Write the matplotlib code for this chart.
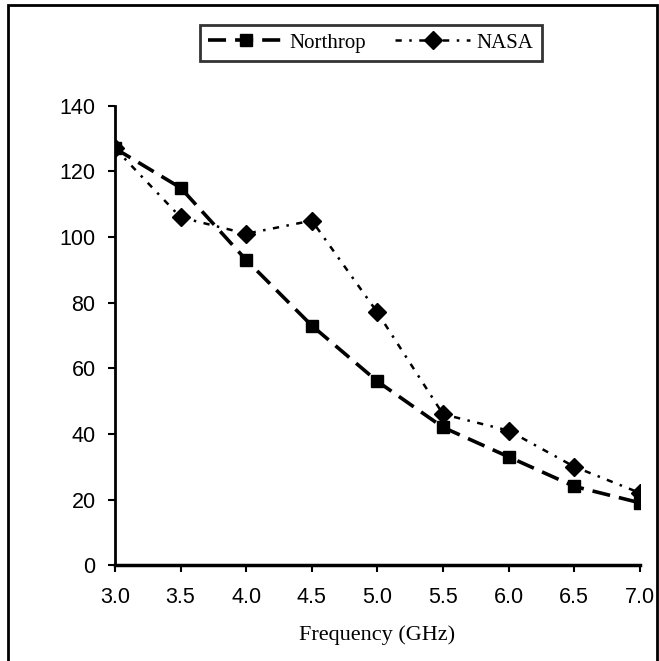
import matplotlib
matplotlib.use('Agg')
import matplotlib.pyplot as plt
from matplotlib.patches import Rectangle

freq = [3.0, 3.5, 4.0, 4.5, 5.0, 5.5, 6.0, 6.5, 7.0]
northrop = [127, 115, 93, 73, 56, 42, 33, 24, 19]
nasa = [127, 106, 101, 105, 77, 46, 41, 30, 22]
x_ticks = [3.0, 3.5, 4.0, 4.5, 5.0, 5.5, 6.0, 6.5, 7.0]
y_ticks = [0, 20, 40, 60, 80, 100, 120, 140]

fig = plt.figure(figsize=(6.59, 6.61), dpi=100)
ax = fig.add_axes([0.1745, 0.145, 0.7965, 0.695])

ax.plot(freq, northrop, color='black', lw=2.6, ls=(0, (5, 2.5)),
        marker='s', ms=9, label='Northrop')
ax.plot(freq, nasa, color='black', lw=1.8, ls=(0, (2.5, 3, 1, 3)),
        marker='D', ms=9, label='NASA')

ax.set_xlim(3.0, 7.0)
ax.set_ylim(0, 140)
ax.set_xticks(x_ticks)
ax.set_xticklabels(['%.1f' % v for v in x_ticks])
ax.set_yticks(y_ticks)
for lab in ax.get_xticklabels() + ax.get_yticklabels():
    lab.set_family('Liberation Sans')
    lab.set_fontsize(15.5)
ax.tick_params(axis='x', direction='out', length=5, width=1.5, pad=11)
ax.tick_params(axis='y', direction='out', length=5, width=1.5, pad=9)
ax.spines['top'].set_visible(False)
ax.spines['right'].set_visible(False)
ax.spines['left'].set_linewidth(2)
ax.spines['bottom'].set_linewidth(2.5)

ax.set_xlabel('Frequency (GHz)', family='Liberation Serif', fontsize=16, labelpad=12)

leg = fig.legend(loc='center', bbox_to_anchor=(0.563, 0.935), ncol=2,
                 prop={'family': 'Liberation Serif', 'size': 15},
                 frameon=True, fancybox=False, edgecolor='black',
                 handlelength=3.6, columnspacing=1.4, borderpad=0.4,
                 handletextpad=0.3)
leg.get_frame().set_linewidth(2)

# outer frame around the chart
fig.patches.append(Rectangle((0.012, -0.01), 0.985, 1.003, transform=fig.transFigure,
                             fill=False, edgecolor='black', lw=2))

plt.savefig('out.png', dpi=100)
